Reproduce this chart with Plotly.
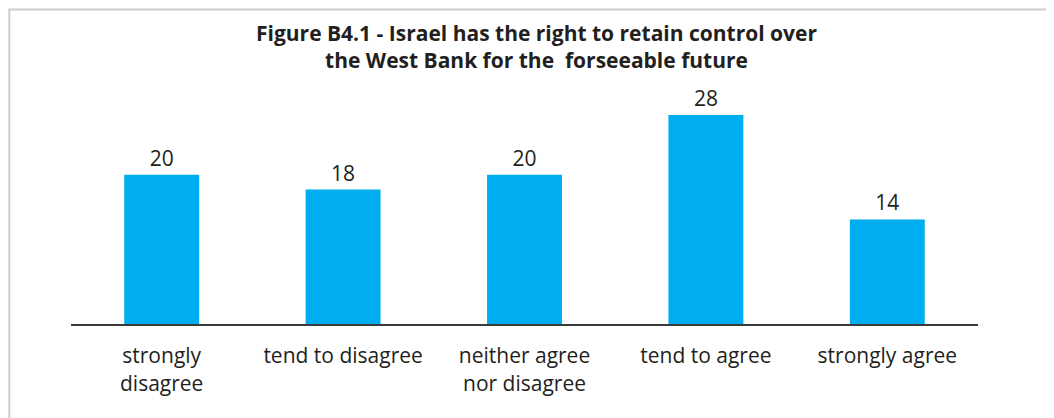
import plotly.graph_objects as go

# Survey responses (%)
categories = [
    "strongly<br>disagree",
    "tend to disagree",
    "neither agree<br>nor disagree",
    "tend to agree",
    "strongly agree",
]
values = [20, 18, 20, 28, 14]

title_text = (
    "<b>Figure B4.1 - Israel has the right to retain control over<br>"
    "the West Bank for the  forseeable future</b>"
)

fig = go.Figure()
fig.add_trace(
    go.Bar(
        x=categories,
        y=values,
        marker=dict(color="#00AEEF", line=dict(width=0)),
        text=[str(v) for v in values],
        textposition="outside",
        textfont=dict(family="Open Sans", size=21, color="#231F20"),
        cliponaxis=False,
    )
)

fig.update_layout(
    width=1054,
    height=418,
    paper_bgcolor="white",
    plot_bgcolor="white",
    showlegend=False,
    bargap=0.587,
    margin=dict(l=63, r=84, t=92, b=102),
    font=dict(family="Open Sans", size=21, color="#231F20"),
)

# title as an annotation so it can be placed precisely
fig.add_annotation(
    text=title_text,
    xref="paper",
    yref="paper",
    x=0.513,
    y=1.24,
    xanchor="center",
    yanchor="middle",
    showarrow=False,
    font=dict(family="Open Sans", size=21, color="#231F20"),
)

fig.update_xaxes(
    showline=True,
    linecolor="#3a3a3a",
    linewidth=2,
    ticks="",
    ticklabelstandoff=12,
    tickfont=dict(family="Open Sans", size=21, color="#231F20"),
    showgrid=False,
)
fig.update_yaxes(
    range=[0, 30],
    visible=False,
    showgrid=False,
)

# light grey frame, cropped at right and bottom
fig.add_shape(
    type="rect",
    xref="paper",
    yref="paper",
    x0=-0.068,
    x1=1.2,
    y0=-0.6,
    y1=1.404,
    line=dict(color="#cccccc", width=2),
    fillcolor="rgba(0,0,0,0)",
    layer="below",
)

fig.write_html("out.html")
